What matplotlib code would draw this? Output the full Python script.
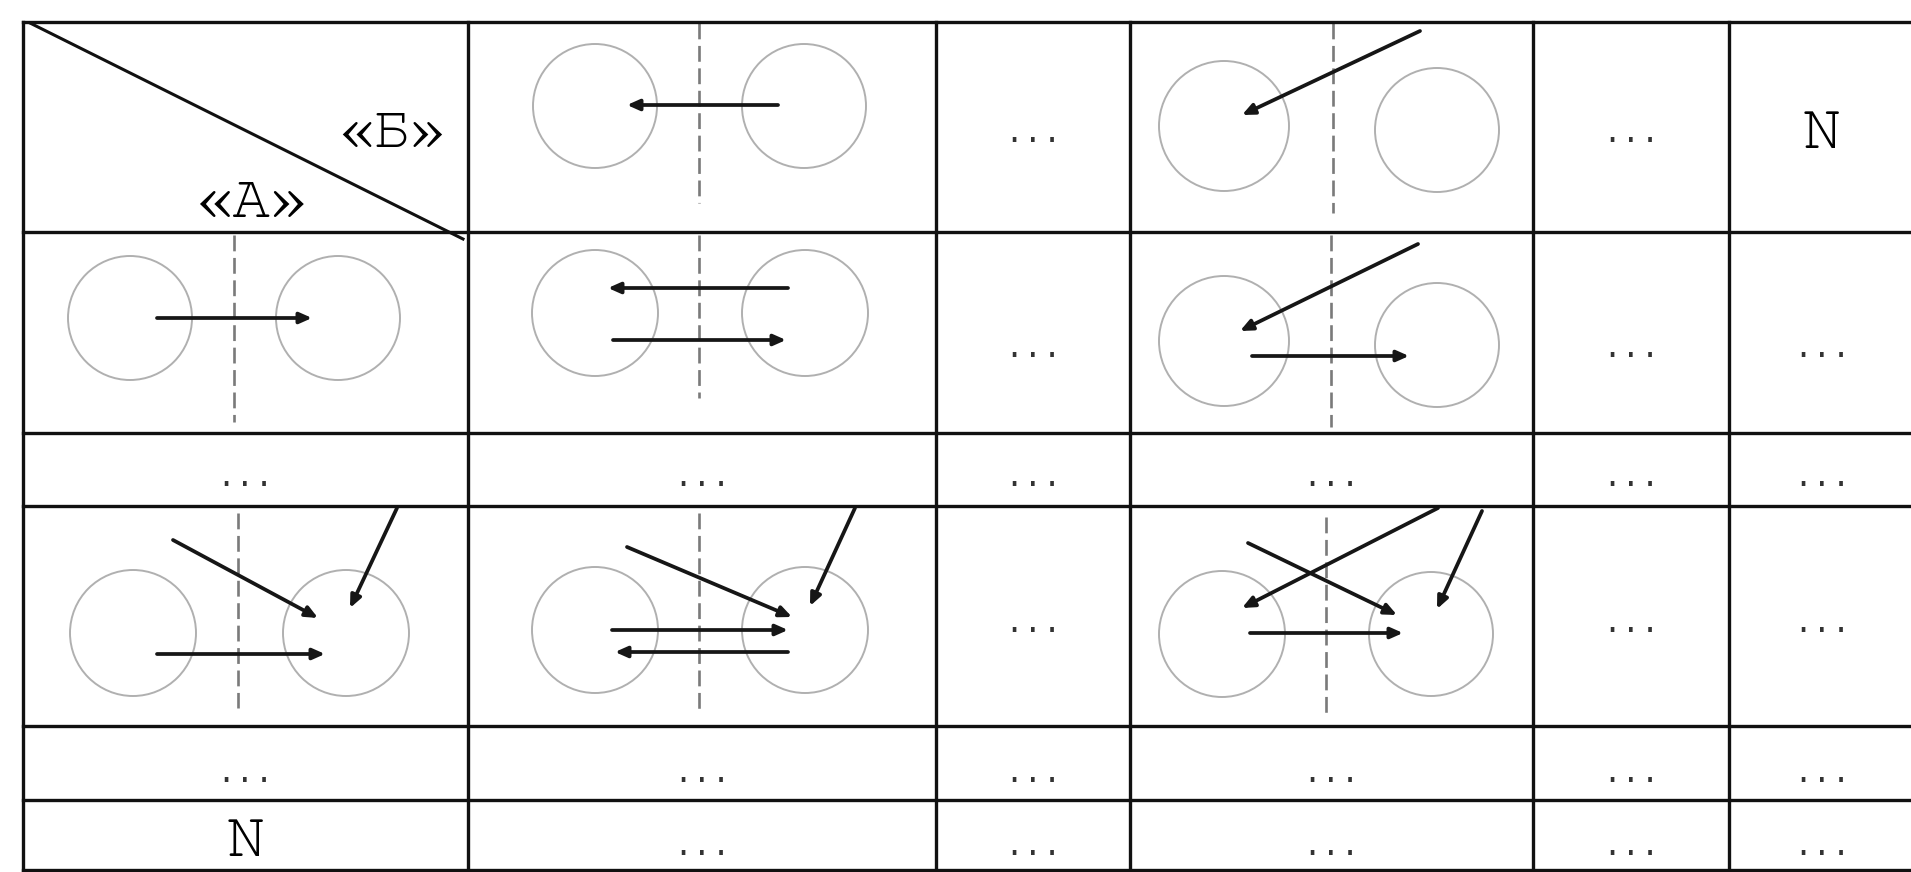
import matplotlib
matplotlib.use("Agg")
import matplotlib.pyplot as plt
from matplotlib import font_manager
from matplotlib.patches import Circle

# table grid (pixel units, y grows downwards)
COL_EDGES = [23, 468, 936, 1130, 1533, 1729, 1915]
ROW_EDGES = [22, 232, 433, 506, 726, 800, 870]

# cell labels, "" = empty or drawing
CELL_TEXT = [
    ["", "", "...", "", "...", "N"],
    ["", "", "...", "", "...", "..."],
    ["...", "...", "...", "...", "...", "..."],
    ["", "", "...", "", "...", "..."],
    ["...", "...", "...", "...", "...", "..."],
    ["N", "...", "...", "...", "...", "..."],
]
HEADER_TOP = "«Б»"
HEADER_LEFT = "«А»"

# circles: centre x, centre y, radius
CIRCLES = [
    (595, 106, 62), (804, 106, 62),
    (1224, 126, 65), (1437, 130, 62),
    (130, 318, 62), (338, 318, 62),
    (595, 313, 63), (805, 313, 63),
    (1224, 341, 65), (1437, 345, 62),
    (133, 633, 63), (346, 633, 63),
    (595, 630, 63), (805, 630, 63),
    (1222, 634, 63), (1431, 634, 62),
]

# dashed dividers: x, y top, y bottom
DIVIDERS = [
    (699, 23, 203), (1333, 23, 213),
    (234, 235, 422), (699, 235, 398), (1331, 235, 427),
    (238, 513, 708), (699, 513, 712), (1326, 517, 718),
]

# arrows: tail x, tail y, head x, head y
ARROWS = [
    (778, 105, 627, 105),
    (1420, 31, 1242, 115),
    (157, 318, 312, 318),
    (788, 288, 608, 288), (613, 340, 786, 340),
    (1418, 244, 1240, 331), (1252, 356, 1409, 356),
    (173, 540, 318, 618), (397, 508, 350, 608), (157, 654, 325, 654),
    (627, 547, 792, 617), (855, 508, 810, 606), (612, 630, 788, 630), (788, 652, 615, 652),
    (1438, 508, 1242, 608), (1248, 543, 1397, 615), (1482, 511, 1437, 609), (1250, 633, 1403, 633),
]

DOT_BASELINE = [142, 357, 486, 632, 782, 855]


def pick_font(candidates):
    names = {f.name for f in font_manager.fontManager.ttflist}
    for c in candidates:
        if c in names:
            return c
    return "DejaVu Serif"


serif = pick_font(["Courier New", "Nimbus Mono PS", "FreeMono", "Liberation Serif"])
mono = pick_font(["Liberation Mono", "DejaVu Sans Mono"])

fig = plt.figure(figsize=(19.11, 8.72), dpi=100)
ax = fig.add_axes([0, 0, 1, 1])
ax.set_xlim(0, 1911)
ax.set_ylim(872, 0)
ax.axis("off")

grid_kw = dict(color="#111111", lw=2.4, solid_capstyle="projecting", zorder=3)
for y in ROW_EDGES:
    ax.plot([COL_EDGES[0], COL_EDGES[-1]], [y, y], **grid_kw)
for x in COL_EDGES:
    ax.plot([x, x], [ROW_EDGES[0], ROW_EDGES[-1]], **grid_kw)

# header cell with the diagonal
ax.plot([30, 463], [23, 239], color="#111111", lw=2.2, zorder=3)
ax.text(392, 147, HEADER_TOP, family=serif, fontsize=43, ha="center", va="baseline")
ax.text(251, 217, HEADER_LEFT, family=serif, fontsize=45, ha="center", va="baseline")

for cx, cy, r in CIRCLES:
    ax.add_patch(Circle((cx, cy), r, fill=False, ec="#b0b0b0", lw=1.4, zorder=1))

for x, y0, y1 in DIVIDERS:
    ax.plot([x, x], [y0, y1], color="#7a7a7a", lw=1.9, dashes=[6, 2.5], zorder=1)

for x0, y0, x1, y1 in ARROWS:
    ax.annotate("", xy=(x1, y1), xytext=(x0, y0),
                arrowprops=dict(arrowstyle="-|>,head_length=0.45,head_width=0.2",
                                color="#161616", lw=2.7, mutation_scale=16,
                                shrinkA=0, shrinkB=0),
                zorder=2)

for i, row in enumerate(CELL_TEXT):
    for j, label in enumerate(row):
        if not label:
            continue
        xc = (COL_EDGES[j] + COL_EDGES[j + 1]) / 2
        if label == "N":
            yb = (ROW_EDGES[i] + ROW_EDGES[i + 1]) / 2 + 21
            ax.text(xc, yb, label, family=serif, fontsize=46, ha="center", va="baseline")
        else:
            ax.text(xc, DOT_BASELINE[i], label, family=mono, fontsize=23,
                    color="#333333", ha="center", va="baseline")

fig.savefig("out.png", dpi=100, facecolor="white")
